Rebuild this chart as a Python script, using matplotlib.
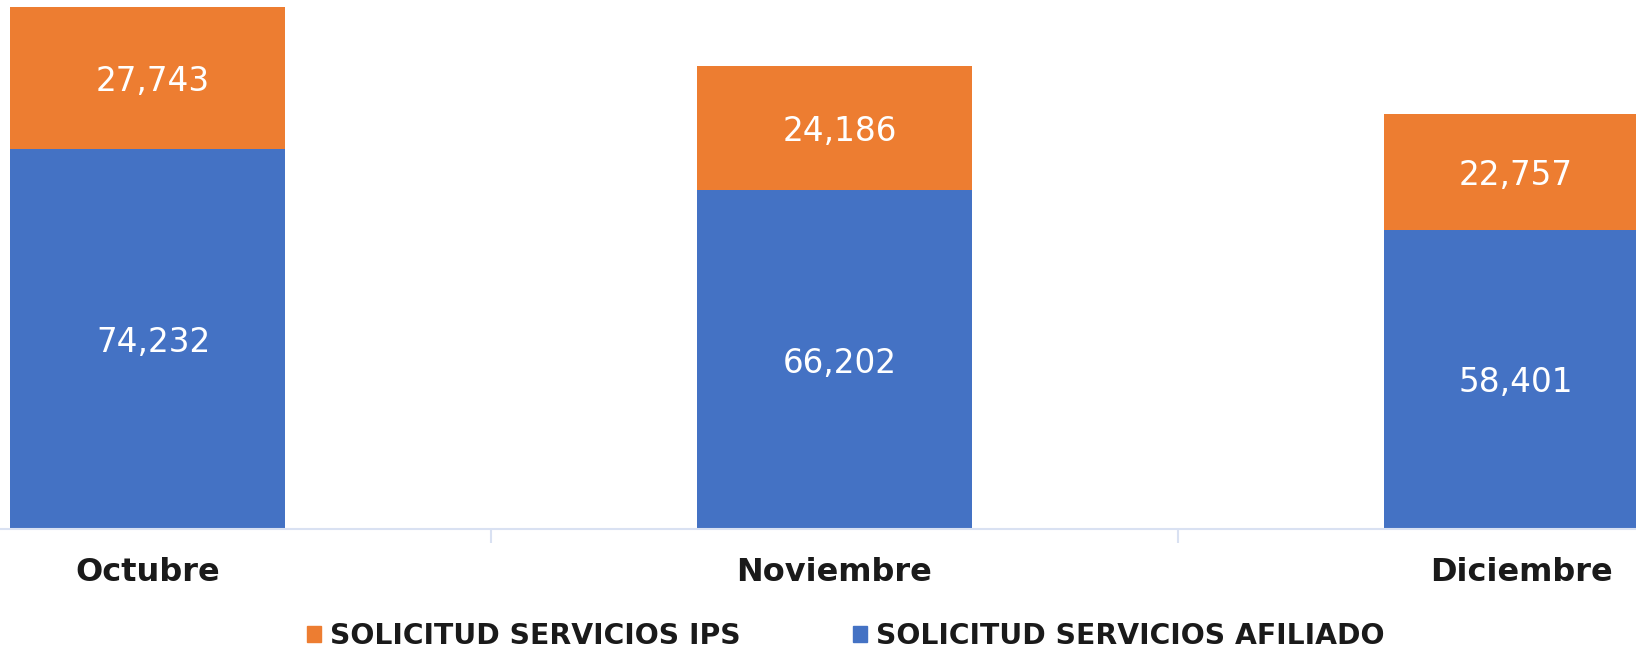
import matplotlib as mpl
import matplotlib.pyplot as plt
from matplotlib.patches import Patch

mpl.rcParams['font.family'] = ['DejaVu Sans']

months = ['Octubre', 'Noviembre', 'Diciembre']
afiliado = [74232, 66202, 58401]
ips = [27743, 24186, 22757]
series_names = ['SOLICITUD SERVICIOS IPS', 'SOLICITUD SERVICIOS AFILIADO']

blue = '#4472C4'
orange = '#ED7D31'

fig = plt.figure(figsize=(16.36, 6.49), dpi=100, facecolor='white')
ax = fig.add_axes([0, 0.1849, 1, 0.8151])

x = list(range(len(months)))
b1 = ax.bar(x, afiliado, width=0.4, color=blue, zorder=2)
b2 = ax.bar(x, ips, width=0.4, bottom=afiliado, color=orange, zorder=2)
labs = ax.bar_label(b1, labels=[f'{v:,}' for v in afiliado], label_type='center',
                    color='white', fontsize=23.5)
labs += ax.bar_label(b2, labels=[f'{v:,}' for v in ips], label_type='center',
                     color='white', fontsize=23.5)
for t in labs:
    t.xyann = (4, -2.5)

ax.set_xlim(-0.2147, 2.1667)
ax.set_ylim(0, 103340)
for s in ['top', 'right', 'left']:
    ax.spines[s].set_visible(False)
ax.spines['bottom'].set_color('#D9E1F2')
ax.spines['bottom'].set_linewidth(1.5)
ax.set_yticks([])

# category labels and separator ticks
ax.set_xticks(x)
ax.set_xticklabels(months, fontsize=23, fontweight='bold', color='#1A1A1A')
ax.tick_params(axis='x', length=0, pad=20)
ax.set_xticks([0.5, 1.5], minor=True)
ax.tick_params(axis='x', which='minor', length=10, width=1.5, color='#D9E1F2')

handles = [Patch(color=orange), Patch(color=blue)]
leg = fig.legend(handles, series_names, loc='center', bbox_to_anchor=(0.517, 0.02),
                 ncol=2, frameon=False, handlelength=0.5, handleheight=0.5,
                 handletextpad=0.3, columnspacing=4.0,
                 prop={'weight': 'bold', 'size': 20.3})
for t in leg.get_texts():
    t.set_color('#1A1A1A')

plt.savefig('out.png', dpi=100, facecolor='white')
